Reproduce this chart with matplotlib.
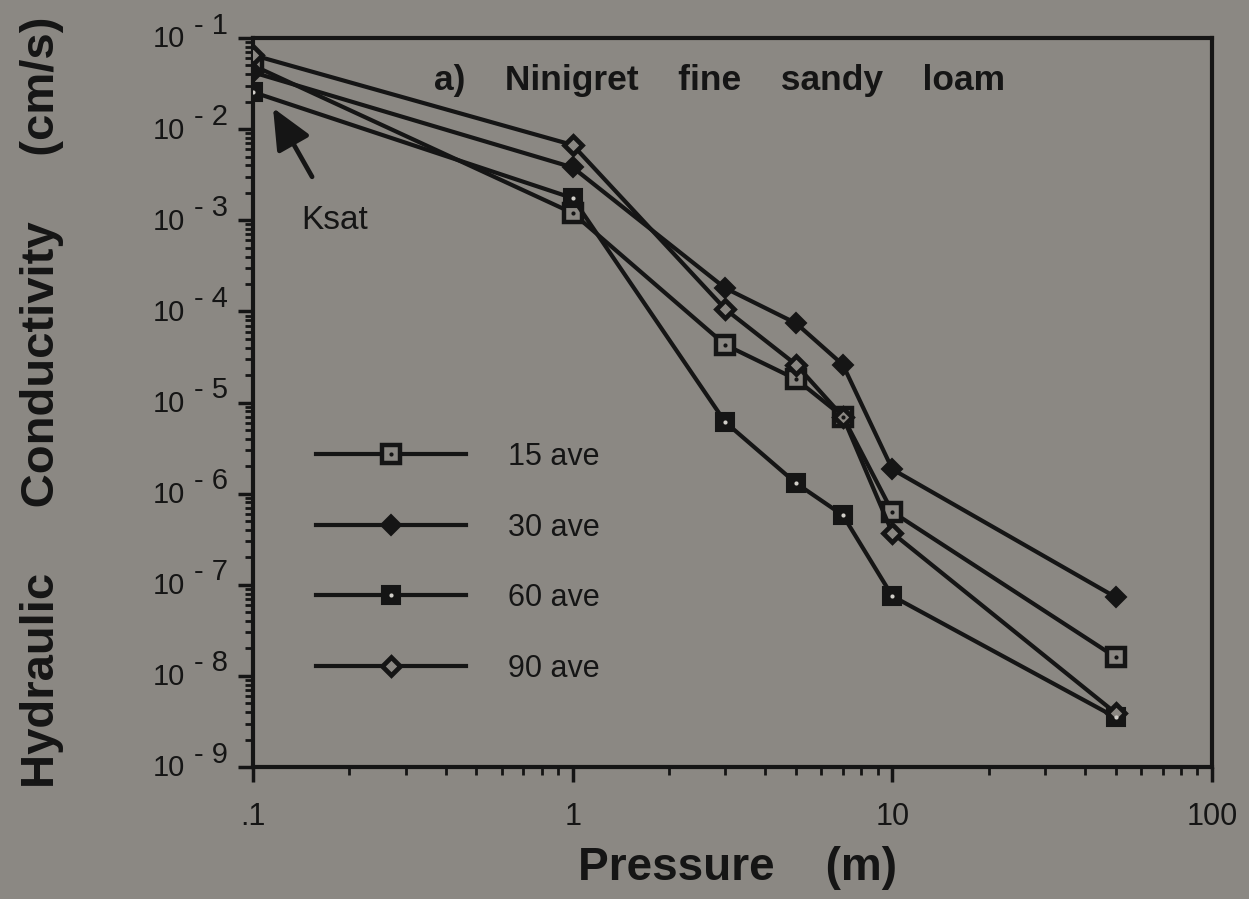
"""Unsaturated hydraulic conductivity vs. pressure head, Ninigret fine sandy loam."""

import matplotlib.pyplot as plt
from matplotlib.legend_handler import HandlerTuple
from matplotlib.ticker import FixedLocator, LogLocator, NullFormatter

BG = "#8b8883"
INK = "#151515"

# pressure head (m) and depth-averaged conductivity (cm/s)
pressure = [0.1, 1, 3, 5, 7, 10, 50]
k_15 = [0.050, 1.2e-3, 4.3e-5, 1.8e-5, 7.0e-6, 6.3e-7, 1.6e-8]
k_30 = [0.042, 3.8e-3, 1.8e-4, 7.4e-5, 2.6e-5, 1.85e-6, 7.3e-8]
k_60 = [0.0255, 1.75e-3, 6.1e-6, 1.3e-6, 5.8e-7, 7.5e-8, 3.5e-9]
k_90 = [0.065, 6.7e-3, 1.06e-4, 2.6e-5, 7.0e-6, 3.7e-7, 3.9e-9]
series_labels = ["15 ave", "30 ave", "60 ave", "90 ave"]

x_ticks = [0.1, 1, 10, 100]
x_tick_labels = [".1", "1", "10", "100"]
y_exponents = [-1, -2, -3, -4, -5, -6, -7, -8, -9]

# marker look per series; "dot" is the small centre mark drawn on top
STYLES = [
    dict(marker="s", ms=13, mfc=BG, mec=INK, mew=3.2, dot=INK),
    dict(marker="D", ms=10, mfc=INK, mec=INK, mew=1.5, dot=None),
    dict(marker="s", ms=13.5, mfc=INK, mec=INK, mew=1.5, dot="#cfcdc8"),
    dict(marker="D", ms=9, mfc=BG, mec=INK, mew=3.4, dot=None),
]

plt.rcParams["font.family"] = ["Liberation Sans", "DejaVu Sans"]


def main() -> None:
    fig = plt.figure(figsize=(12.49, 8.99), dpi=100, facecolor=BG)
    ax = fig.add_axes([0.2026, 0.1468, 0.7678, 0.8109], facecolor=BG)

    handles = []
    for values, style in zip([k_15, k_30, k_60, k_90], STYLES):
        line, = ax.plot(
            pressure, values, color=INK, lw=3.0,
            marker=style["marker"], ms=style["ms"], mfc=style["mfc"],
            mec=style["mec"], mew=style["mew"], zorder=3,
        )
        handle = line
        if style["dot"]:
            dot, = ax.plot(
                pressure, values, ls="none", marker="o", ms=3.0,
                mfc=style["dot"], mec="none", zorder=4,
            )
            handle = (line, dot)
        handles.append(handle)

    ax.set_xscale("log")
    ax.set_yscale("log")
    ax.set_xlim(0.1, 100)
    ax.set_ylim(1e-9, 1e-1)

    ax.xaxis.set_major_locator(FixedLocator(x_ticks))
    ax.set_xticklabels(x_tick_labels)
    ax.xaxis.set_minor_locator(LogLocator(base=10, subs=range(2, 10), numticks=20))
    ax.xaxis.set_minor_formatter(NullFormatter())
    ax.yaxis.set_major_locator(FixedLocator([10.0 ** e for e in y_exponents]))
    ax.yaxis.set_minor_locator(LogLocator(base=10, subs=range(2, 10), numticks=20))
    ax.yaxis.set_major_formatter(NullFormatter())
    ax.yaxis.set_minor_formatter(NullFormatter())

    ax.tick_params(which="major", direction="out", length=11, width=2.5, color=INK)
    ax.tick_params(which="minor", direction="out", length=6, width=2.0, color=INK)
    ax.tick_params(axis="x", labelsize=22, pad=14, labelcolor=INK)
    ax.tick_params(top=False, right=False)
    for spine in ax.spines.values():
        spine.set_linewidth(3)
        spine.set_color(INK)

    # decade labels written as 10 with a raised "- n"
    for e in y_exponents:
        ax.annotate(
            "10", xy=(0, 10.0 ** e), xycoords=("axes fraction", "data"),
            xytext=(-49, -1), textcoords="offset points",
            ha="right", va="center", fontsize=21, color=INK,
        )
        ax.annotate(
            f"- {-e}", xy=(0, 10.0 ** e), xycoords=("axes fraction", "data"),
            xytext=(-18, 9), textcoords="offset points",
            ha="right", va="center", fontsize=21, color=INK,
        )

    ax.text(
        0.486, 0.942, "a)    Ninigret    fine    sandy    loam", transform=ax.transAxes,
        ha="center", va="center", fontsize=25.5, fontweight="bold", color=INK,
    )

    # saturated conductivity pointer
    ax.annotate(
        "", xy=(0.1155, 0.0171), xytext=(0.153, 0.003),
        arrowprops=dict(
            arrowstyle="-|>,head_length=1.0,head_width=0.45",
            mutation_scale=25, lw=3.4, color=INK, shrinkA=0, shrinkB=0,
        ),
    )
    ax.text(0.142, 0.001, "Ksat", ha="left", va="center", fontsize=24, color=INK)

    ax.legend(
        handles, series_labels, loc="upper left", bbox_to_anchor=(0.066, 0.446),
        frameon=False, fontsize=22, handlelength=4.9, handletextpad=1.38,
        labelspacing=1.33, borderpad=0, borderaxespad=0, labelcolor=INK,
        handler_map={tuple: HandlerTuple(ndivide=1)},
    )

    fig.text(
        42 / 1249, 1 - 402 / 899, "Hydraulic     Conductivity     (cm/s)",
        rotation=90, ha="center", va="center", fontsize=34, fontweight="bold",
        color=INK,
    )
    fig.text(
        738 / 1249, 1 - 868 / 899, "Pressure    (m)",
        ha="center", va="center", fontsize=33, fontweight="bold", color=INK,
    )

    fig.savefig("out.png", dpi=100, facecolor=BG)


if __name__ == "__main__":
    main()
